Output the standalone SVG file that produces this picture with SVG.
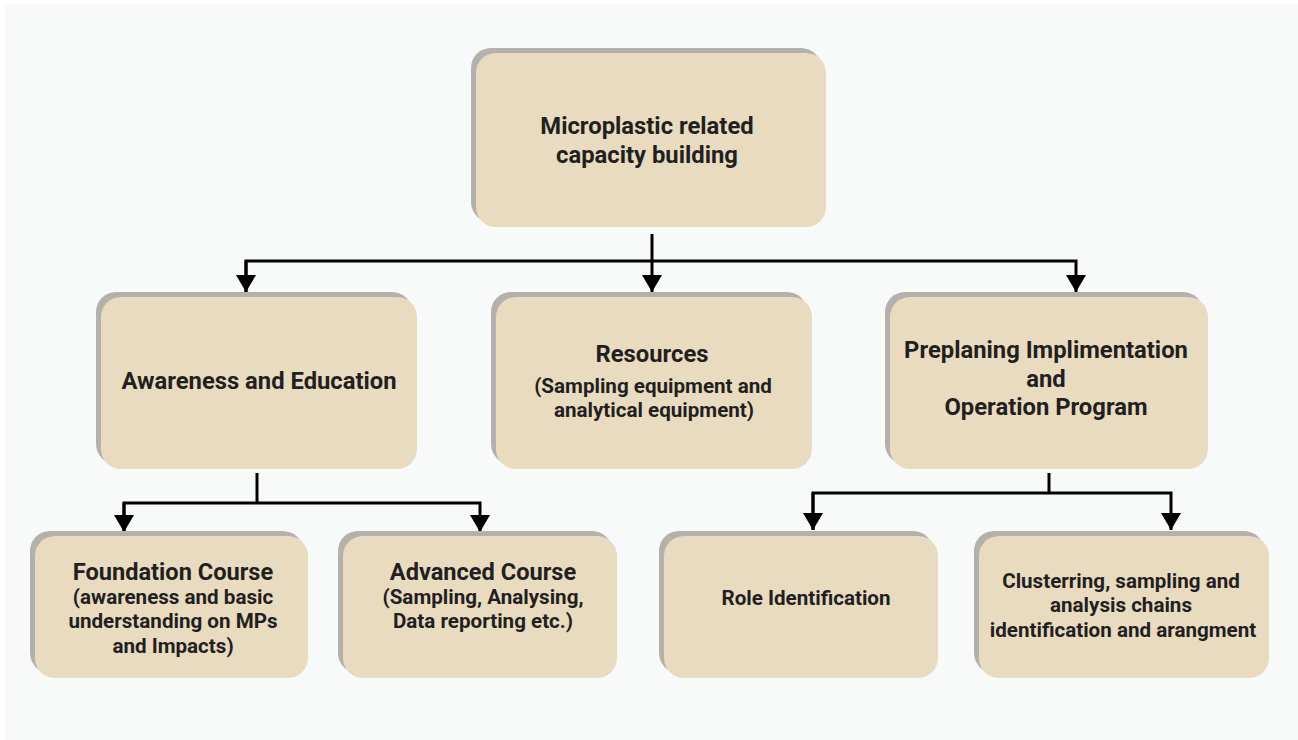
<svg xmlns="http://www.w3.org/2000/svg" width="1298" height="740" viewBox="0 0 1298 740">
<style>
.shadow{fill:#b4b1ac}
.box{fill:#e9dbc0}
.t{font-family:Roboto,"Liberation Sans",sans-serif;font-weight:bold;fill:#231f20;text-anchor:middle}
.h{font-size:23.8px}
.s{font-size:20.6px}
.c{font-size:23.6px}
.conn{fill:none;stroke:#000;stroke-width:3}
</style>
<defs>
<marker id="arr" markerUnits="userSpaceOnUse" markerWidth="18" markerHeight="20" refX="17" refY="10" orient="auto">
<path d="M0,0 L17,10 L0,20 z" fill="#000"/>
</marker>
</defs>
<rect x="0" y="0" width="1298" height="740" fill="#ffffff"/>
<rect x="5" y="4" width="1293" height="736" fill="#f8f9f9"/>

<g id="connectors">
<path class="conn" d="M652,234 V292" marker-end="url(#arr)"/>
<path class="conn" d="M246,292 V261 H1076 V292" marker-end="url(#arr)"/>
<path class="conn" d="M246,261 V292" marker-end="url(#arr)"/>
<path class="conn" d="M257,473 V503"/>
<path class="conn" d="M124,532 V503 H480 V532" marker-end="url(#arr)"/>
<path class="conn" d="M124,503 V532" marker-end="url(#arr)"/>
<path class="conn" d="M1049,473 V493"/>
<path class="conn" d="M813,530 V493 H1171 V530" marker-end="url(#arr)"/>
<path class="conn" d="M813,493 V530" marker-end="url(#arr)"/>
</g>

<g id="node-top">
<rect class="shadow" x="471" y="48" width="350" height="174" rx="20"/>
<rect class="box" x="476" y="53" width="350" height="174" rx="20"/>
<text class="t h" x="647" y="134">Microplastic related</text>
<text class="t h" x="647" y="163">capacity building</text>
</g>

<g id="node-awareness">
<rect class="shadow" x="96" y="292" width="316" height="172" rx="20"/>
<rect class="box" x="101" y="297" width="316" height="172" rx="20"/>
<text class="t h" x="259" y="389">Awareness and Education</text>
</g>

<g id="node-resources">
<rect class="shadow" x="491" y="292" width="316" height="172" rx="20"/>
<rect class="box" x="496" y="297" width="316" height="172" rx="20"/>
<text class="t h" x="652" y="362">Resources</text>
<text class="t s" x="653" y="393">(Sampling equipment and</text>
<text class="t s" x="654" y="417">analytical equipment)</text>
</g>

<g id="node-preplaning">
<rect class="shadow" x="885" y="292" width="318" height="172" rx="20"/>
<rect class="box" x="890" y="297" width="318" height="172" rx="20"/>
<text class="t h" x="1046" y="358">Preplaning Implimentation</text>
<text class="t h" x="1046" y="387">and</text>
<text class="t h" x="1046" y="415">Operation Program</text>
</g>

<g id="node-foundation">
<rect class="shadow" x="30" y="531" width="273" height="142" rx="20"/>
<rect class="box" x="35" y="536" width="273" height="142" rx="20"/>
<text class="t c" x="173" y="580">Foundation Course</text>
<text class="t s" x="173" y="604">(awareness and basic</text>
<text class="t s" x="173" y="628">understanding on MPs</text>
<text class="t s" x="173" y="653">and Impacts)</text>
</g>

<g id="node-advanced">
<rect class="shadow" x="338" y="531" width="274" height="142" rx="20"/>
<rect class="box" x="343" y="536" width="274" height="142" rx="20"/>
<text class="t c" x="483" y="580">Advanced Course</text>
<text class="t s" x="483" y="604">(Sampling, Analysing,</text>
<text class="t s" x="483" y="628">Data reporting etc.)</text>
</g>

<g id="node-role">
<rect class="shadow" x="659" y="531" width="274" height="142" rx="20"/>
<rect class="box" x="664" y="536" width="274" height="142" rx="20"/>
<text class="t s" x="806" y="605">Role Identification</text>
</g>

<g id="node-clustering">
<rect class="shadow" x="974" y="531" width="290" height="142" rx="20"/>
<rect class="box" x="979" y="536" width="290" height="142" rx="20"/>
<text class="t s" x="1121" y="588">Clusterring, sampling and</text>
<text class="t s" x="1121" y="612">analysis chains</text>
<text class="t s" x="1123" y="637">identification and arangment</text>
</g>
</svg>
